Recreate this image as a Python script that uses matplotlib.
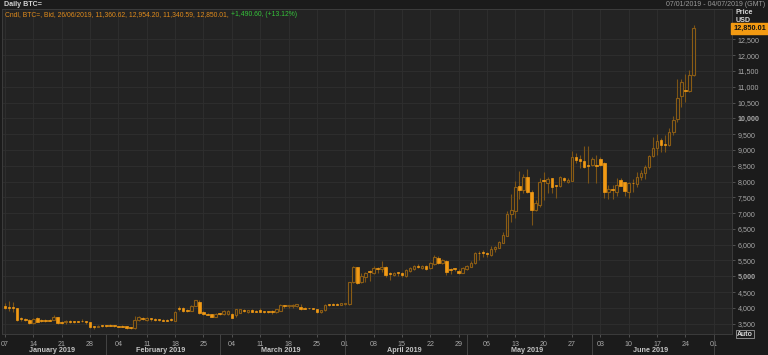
import numpy as np
import pandas as pd
import matplotlib
matplotlib.use('Agg')
import matplotlib.pyplot as plt
import matplotlib.dates as mdates
import matplotlib.transforms as mtransforms

plt.rcParams['font.family'] = ['Liberation Sans', 'DejaVu Sans']

# daily candles, 07/01/2019 - 26/06/2019
dates = pd.date_range('2019-01-07', '2019-06-26', freq='D')

opens = [
    # Jan
    4070, 3995, 3995, 3985, 3645, 3642, 3627, 3512, 3670, 3600, 3598, 3608, 3617,
    3702, 3545, 3543, 3572, 3570, 3570, 3578, 3550, 3543, 3410, 3405, 3425,
    # Feb
    3435, 3445, 3440, 3412, 3418, 3427, 3380, 3354, 3620, 3648, 3630, 3645, 3632,
    3622, 3595, 3592, 3615, 3585, 3968, 3987, 3908, 3902, 4070, 4197, 3860, 3800,
    3797, 3722,
    # Mar
    3802, 3797, 3805, 3815, 3775, 3850, 3910, 3875, 3924, 3888, 3935, 3870, 3868,
    3865, 3865, 3913, 4068, 4048, 4050, 4060, 4018, 3988, 3990, 3988, 3955, 3865,
    3934, 4098, 4105, 4108, 4092,
    # Apr
    4110, 4114, 4810, 5285, 4830, 4987, 5135, 5114, 5240, 5221, 5304, 5080, 5041,
    5120, 5114, 5009, 5177, 5221, 5310, 5253, 5326, 5253, 5389, 5569, 5432, 5494,
    5205, 5235, 5177, 5114,
    # May
    5231, 5304, 5411, 5735, 5732, 5712, 5674, 5854, 5905, 6064, 6286, 6962, 7076,
    7867, 7731, 8155, 7677, 7098, 7256, 8026, 7962, 8100, 7868, 7858, 8100, 7990,
    8025, 8766, 8712, 8649, 8510,
    # Jun
    8522, 8510, 8703, 8576, 7658, 7728, 7677, 8047, 7972, 7677, 7948, 7921, 8133,
    8260, 8449, 8807, 9070, 9313, 9160, 9155, 9557, 9970, 10700, 10875, 10873,
    11360.62,
]
highs = [
    4165, 4230, 4180, 4000, 3700, 3670, 3650, 3680, 3700, 3650, 3650, 3640, 3760,
    3720, 3570, 3620, 3610, 3600, 3600, 3640, 3580, 3550, 3430, 3470, 3460,
    3470, 3490, 3460, 3440, 3450, 3440, 3400, 3755, 3740, 3700, 3700, 3680, 3670,
    3650, 3660, 3640, 3680, 3900, 4050, 4020, 3950, 4080, 4260, 4260, 3900, 3830,
    3820, 3840,
    3850, 3920, 3920, 3850, 3980, 3980, 3950, 3940, 3950, 3920, 3990, 3910, 3900,
    3920, 3960, 4110, 4090, 4090, 4110, 4130, 4120, 4020, 4010, 4000, 3980, 3940,
    4110, 4120, 4160, 4150, 4170,
    4170, 4830, 5330, 5300, 5100, 5146, 5199, 5330, 5290, 5494, 5336, 5146, 5146,
    5146, 5146, 5240, 5280, 5360, 5380, 5360, 5360, 5450, 5660, 5640, 5560, 5520,
    5253, 5270, 5230, 5280,
    5350, 5470, 5780, 5811, 5820, 5780, 5950, 5960, 6120, 6400, 7060, 7595, 8016,
    8342, 8237, 8390, 7731, 7415, 8111, 8300, 8143, 8111, 7889, 8160, 8150, 8120,
    8975, 8892, 8839, 9123, 9123,
    8760, 8839, 8760, 8620, 7889, 7889, 8111, 8111, 8000, 8000, 8080, 8300, 8360,
    8520, 8839, 9418, 9492, 9365, 9480, 9683, 10060, 11230, 11230, 11400, 11530,
    12954.20,
]
lows = [
    3965, 3890, 3860, 3580, 3580, 3600, 3490, 3500, 3550, 3560, 3550, 3570, 3610,
    3490, 3500, 3480, 3530, 3530, 3540, 3550, 3500, 3370, 3340, 3390, 3400,
    3410, 3420, 3380, 3380, 3390, 3340, 3330, 3340, 3600, 3610, 3600, 3600, 3590,
    3580, 3570, 3570, 3590, 3570, 3900, 3880, 3870, 3890, 4050, 3800, 3780, 3760,
    3700, 3700,
    3770, 3780, 3780, 3680, 3700, 3830, 3870, 3850, 3860, 3860, 3860, 3830, 3840,
    3820, 3850, 3900, 4000, 3990, 4010, 4040, 3940, 3960, 3965, 3960, 3840, 3850,
    3890, 4070, 4080, 4080, 4080,
    4090, 4100, 4780, 4760, 4778, 4830, 4862, 5080, 5114, 5146, 4987, 4883, 5009,
    5020, 4980, 4980, 5150, 5200, 5250, 5230, 5200, 5230, 5370, 5400, 5400, 5050,
    5080, 5180, 5080, 5090,
    5210, 5290, 5380, 5516, 5600, 5600, 5650, 5760, 5890, 6050, 6260, 6728, 6835,
    7436, 7627, 7646, 6623, 7067, 7203, 7415, 7646, 7646, 7468, 7830, 7990, 7950,
    8010, 8576, 8417, 8417, 7962,
    8480, 7962, 8480, 7468, 7436, 7436, 7531, 7850, 7531, 7480, 7677, 7816, 8040,
    8070, 8400, 8785, 8839, 8924, 8944, 9130, 9470, 9890, 10360, 10525, 10830,
    11340.59,
]
closes = [
    4000, 3985, 3985, 3610, 3635, 3632, 3512, 3650, 3560, 3590, 3588, 3598, 3702,
    3512, 3535, 3592, 3562, 3560, 3562, 3570, 3542, 3395, 3400, 3412, 3418,
    3428, 3437, 3420, 3405, 3410, 3354, 3370, 3607, 3700, 3638, 3690, 3635, 3622,
    3612, 3585, 3588, 3605, 3860, 3960, 3902, 3900, 4070, 4250, 3829, 3797, 3790,
    3722, 3815,
    3795, 3902, 3900, 3695, 3955, 3955, 3900, 3930, 3870, 3880, 3875, 3860, 3860,
    3858, 3950, 4092, 4058, 4052, 4100, 4115, 3960, 3978, 3982, 3980, 3860, 3925,
    4092, 4088, 4095, 4100, 4140,
    4140, 4810, 5285, 4778, 5019, 5095, 5125, 5253, 5228, 5285, 5041, 5068, 5114,
    5110, 5041, 5199, 5253, 5326, 5300, 5326, 5231, 5411, 5620, 5432, 5516, 5146,
    5195, 5228, 5114, 5253,
    5326, 5432, 5727, 5722, 5724, 5702, 5854, 5937, 6095, 6307, 6962, 7098, 7816,
    7731, 8155, 7677, 7098, 7310, 7994, 8010, 8079, 7816, 7852, 8132, 8047, 8060,
    8766, 8680, 8660, 8468, 8500,
    8703, 8500, 8522, 7658, 7753, 7718, 7889, 7867, 7709, 7940, 7938, 8132, 8280,
    8468, 8807, 9051, 9282, 9155, 9150, 9576, 9946, 10630, 11160, 10865, 11370,
    12850.01,
]

price_ticks = list(range(3500, 13000, 500))
month_starts = pd.to_datetime(['2019-02-01', '2019-03-01', '2019-04-01',
                               '2019-05-01', '2019-06-01', '2019-07-01'])
month_labels = ['January 2019', 'February 2019', 'March 2019',
                'April 2019', 'May 2019', 'June 2019']
month_mid = pd.to_datetime(['2019-01-18 12:00', '2019-02-14 12:00', '2019-03-16 00:00',
                            '2019-04-15 12:00', '2019-05-16 00:00', '2019-06-15 12:00'])

FIG_BG = '#1b1b1b'
AX_BG = '#232323'
GRID = '#2f2f2f'
UP_EDGE = '#8a5c15'
WICK = '#7c5416'
DOWN = '#f29a14'
TXT = '#a8a8a8'

fig = plt.figure(figsize=(7.68, 3.55), dpi=100)
fig.patch.set_facecolor(FIG_BG)
ax = fig.add_axes([2 / 768, 21 / 355, 730 / 768, 325 / 355])
ax.set_facecolor(AX_BG)

x = mdates.date2num(dates)
o = np.array(opens, dtype=float)
h = np.array(highs, dtype=float)
l = np.array(lows, dtype=float)
c = np.array(closes, dtype=float)
up = c >= o
body_lo = np.minimum(o, c)
body_h = np.maximum(np.abs(c - o), 30)

ax.vlines(x, l, h, color=WICK, lw=0.8, zorder=2)
ax.bar(x[up], body_h[up], bottom=body_lo[up], width=0.62, facecolor=AX_BG,
       edgecolor=UP_EDGE, lw=0.8, zorder=3)
ax.bar(x[~up], body_h[~up], bottom=body_lo[~up], width=0.62, facecolor=DOWN,
       edgecolor=DOWN, lw=0.5, zorder=3)

x0 = mdates.date2num(pd.Timestamp('2019-01-07'))
ax.set_xlim(x0 - 0.74, x0 + 179.5)
ax.set_ylim(3174, 13459)

# axes styling
ax.yaxis.tick_right()
ax.set_yticks(price_ticks)
ax.set_yticklabels(['{:,}'.format(p) for p in price_ticks])
for lab, p in zip(ax.get_yticklabels(), price_ticks):
    if p % 5000 == 0:
        lab.set_fontweight('bold')
        lab.set_color('#e6e6e6')
ax.xaxis.set_major_locator(mdates.WeekdayLocator(byweekday=mdates.MO))
ax.xaxis.set_major_formatter(mdates.DateFormatter('%d'))
ax.tick_params(axis='both', colors='#5a5a5a', labelcolor=TXT, labelsize=5.1,
               length=2.5, width=0.6, pad=1.5)
ax.tick_params(axis='x', pad=2.5)
ax.grid(True, color=GRID, lw=0.6, zorder=0)
for s in ax.spines.values():
    s.set_color('#3c3c3c')
    s.set_linewidth(0.7)

# month row under the day numbers
blend = mtransforms.blended_transform_factory(ax.transData, ax.transAxes)
for m, lab in zip(month_mid, month_labels):
    ax.text(mdates.date2num(m), -0.05, lab, transform=blend, ha='center',
            va='center', fontsize=5.2, fontweight='bold', color='#c4c4c4')
for m in month_starts:
    ax.plot([mdates.date2num(m)] * 2, [0, -0.07], transform=blend,
            color='#444444', lw=0.7, clip_on=False)

# header
fig.text(4 / 768, 1 - 5 / 355, 'Daily BTC=', fontsize=5.1, fontweight='bold',
         color='#d2d2d2', va='center')
fig.text(765 / 768, 1 - 5 / 355, '07/01/2019 - 04/07/2019 (GMT)', fontsize=5,
         color='#9a9a9a', va='center', ha='right')
t1 = fig.text(5 / 768, 1 - 15 / 355,
              'Cndl, BTC=, Bid, 26/06/2019, 11,360.62, 12,954.20, 11,340.59, 12,850.01, ',
              fontsize=4.9, color='#e08b1c', va='center')
fig.canvas.draw()
bb = t1.get_window_extent(renderer=fig.canvas.get_renderer())
fig.text(bb.x1 / fig.bbox.width, 1 - 15 / 355, '+1,490.60, (+13.12%)',
         fontsize=4.9, color='#35c43a', va='center')

# right-hand labels
fig.text(736 / 768, 1 - 13 / 355, 'Price', fontsize=5.1, fontweight='bold',
         color='#d8d8d8', va='center')
fig.text(736 / 768, 1 - 20.5 / 355, 'USD', fontsize=5.1, fontweight='bold',
         color='#d8d8d8', va='center')
yblend = mtransforms.blended_transform_factory(ax.transAxes, ax.transData)
ax.text(1.002, closes[-1], '{:,.2f}'.format(closes[-1]), transform=yblend,
        fontsize=5.3, fontweight='bold', color='#111111', va='center', ha='left',
        bbox=dict(boxstyle='square,pad=0.3', fc='#f39a12', ec='#f39a12'), zorder=5)
fig.text(737 / 768, 1 - 334 / 355, 'Auto', fontsize=5, fontweight='bold',
         color='#d8d8d8', va='center',
         bbox=dict(boxstyle='square,pad=0.12', fc=FIG_BG, ec='#9a9a9a', lw=0.6))

fig.savefig('out.png', dpi=100, facecolor=FIG_BG)
